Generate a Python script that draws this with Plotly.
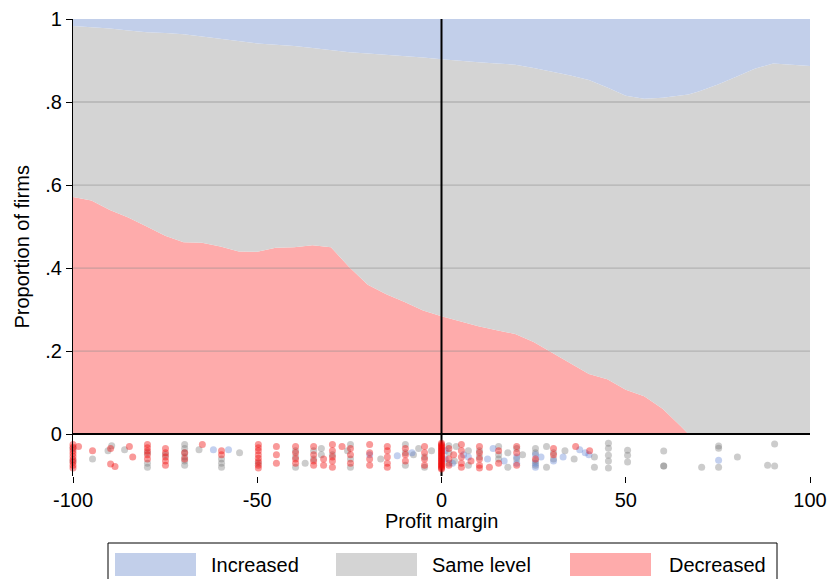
import plotly.graph_objects as go

# ---------------- data ----------------
margin_x = [-100, -95, -90, -85, -80, -75, -70, -65, -60, -55, -50, -45, -40, -35, -30,
            -25, -20, -15, -10, -5, 0, 5, 10, 15, 20, 25, 30, 35, 40, 45, 50, 55, 60,
            65, 67, 70, 75, 80, 85, 90, 95, 100]
decreased_share = [0.571, 0.563, 0.540, 0.522, 0.500, 0.478, 0.462, 0.461, 0.452, 0.440,
                   0.439, 0.449, 0.450, 0.455, 0.450, 0.402, 0.360, 0.337, 0.318, 0.298,
                   0.284, 0.272, 0.260, 0.250, 0.241, 0.222, 0.196, 0.171, 0.145, 0.132,
                   0.107, 0.091, 0.061, 0.018, 0.0, 0.0, 0.0, 0.0, 0.0, 0.0, 0.0, 0.0]
not_increased_share = [0.983, 0.980, 0.977, 0.972, 0.968, 0.966, 0.963, 0.958, 0.952, 0.946,
                       0.941, 0.938, 0.935, 0.930, 0.925, 0.920, 0.917, 0.914, 0.911, 0.907,
                       0.903, 0.899, 0.896, 0.893, 0.890, 0.882, 0.873, 0.864, 0.853, 0.835,
                       0.815, 0.808, 0.810, 0.815, 0.818, 0.826, 0.842, 0.861, 0.880, 0.893,
                       0.890, 0.887]
same_share = [round(t - d, 4) for t, d in zip(not_increased_share, decreased_share)]
increased_share = [round(1 - t, 4) for t in not_increased_share]

# rug of individual firms (profit margin, vertical jitter position)
rug_dec_x = [-100, -100, -100, -100, -100, -100, -100, -100, -100,
             -98.5, -94.7, -89.8, -89.8, -88.6, -84.7, -83.8,
             -79.8, -79.8, -79.8, -79.8, -79.8,
             -74.9, -74.9, -74.9, -74.9, -74.9,
             -69.7, -69.7, -64.9, -59.7, -59.7,
             -49.7, -49.7, -49.7, -49.7, -49.7, -49.7, -49.7, -49.7,
             -44.8, -44.8, -44.8, -39.6, -39.6, -39.6, -39.6,
             -34.7, -34.7, -34.7, -34.7, -32.0, -32.0,
             -29.6, -29.6, -29.6, -29.6, -29.6, -27.0,
             -24.7, -24.7, -24.7, -19.5, -19.5, -19.5, -19.5,
             -14.7, -14.7, -14.7, -14.7, -14.7, -9.8, -9.8, -9.8,
             -4.6, -4.6, -4.6, -4.6,
             0, 0, 0, 0, 0, 0, 0, 0, 0, 0, 0,
             0, 0, 0, 0, 0, 0, 0, 0, 0, 0, 0,
             2, 2, 2, 3.3,
             5.4, 5.4, 5.4, 5.4, 5.4, 8,
             10.3, 10.3, 10.3, 10.3, 10.3, 13,
             15.5, 15.5, 20.4, 20.4, 20.4, 25.5,
             30.4, 30.4, 36.4, 40.2]
rug_dec_y = [-0.025, -0.032, -0.040, -0.047, -0.054, -0.061, -0.068, -0.075, -0.082,
             -0.030, -0.040, -0.035, -0.072, -0.078, -0.030, -0.055,
             -0.025, -0.033, -0.041, -0.050, -0.060,
             -0.035, -0.045, -0.055, -0.065, -0.075,
             -0.045, -0.060, -0.025, -0.040, -0.050,
             -0.025, -0.033, -0.040, -0.050, -0.058, -0.066, -0.075, -0.082,
             -0.030, -0.050, -0.070, -0.030, -0.045, -0.060, -0.070,
             -0.030, -0.050, -0.065, -0.075, -0.060, -0.075,
             -0.025, -0.040, -0.055, -0.065, -0.080, -0.030,
             -0.035, -0.050, -0.070, -0.025, -0.045, -0.060, -0.075,
             -0.030, -0.040, -0.055, -0.070, -0.080, -0.035, -0.050, -0.065,
             -0.030, -0.045, -0.060, -0.075,
             -0.022, -0.028, -0.034, -0.040, -0.046, -0.052, -0.058, -0.064, -0.070, -0.076, -0.082,
             -0.025, -0.031, -0.037, -0.043, -0.049, -0.055, -0.061, -0.067, -0.073, -0.079, -0.084,
             -0.035, -0.060, -0.075, -0.050,
             -0.025, -0.040, -0.055, -0.070, -0.080, -0.065,
             -0.030, -0.045, -0.060, -0.075, -0.082, -0.080,
             -0.040, -0.070, -0.030, -0.045, -0.075, -0.060,
             -0.035, -0.050, -0.030, -0.040]

rug_same_x = [-100, -100, -94.7, -90.5, -89.5, -86.0,
              -79.8, -79.8, -79.8, -74.9,
              -69.7, -69.7, -69.7, -69.7, -69.7, -69.7,
              -65.8, -59.7, -59.7, -59.7, -54.8, -49.7,
              -39.6, -39.6, -39.6, -37.0, -34.7, -34.7,
              -32.6, -32.6, -29.6, -25.5, -24.7, -24.7, -24.7,
              -16.5, -9.8, -9.8, -9.8, -7.6, -6.2, -4.6, -4.6, -2.7,
              2, 2, 2, 3.5, 4, 7.3, 7.3,
              10.3, 10.3, 15.5, 15.5, 15.5, 18, 18, 20.4, 20.4, 22,
              25.5, 25.5, 25.5, 25.5, 28.5, 28.5, 30.4, 30.4, 33.5, 36,
              41.5, 41.5, 45.3, 45.3, 45.3, 45.3, 45.3, 50.5, 50.5, 50.5,
              60.3, 60.3, 60.3, 70.6, 75.2, 75.2, 75.2, 80.3, 88.5, 90.4, 90.4,
              100.7, 100.7]
rug_same_y = [-0.035, -0.065, -0.060, -0.040, -0.028, -0.038,
              -0.045, -0.070, -0.080, -0.050,
              -0.025, -0.035, -0.045, -0.055, -0.065, -0.075,
              -0.038, -0.060, -0.070, -0.080, -0.045, -0.070,
              -0.040, -0.055, -0.080, -0.070, -0.040, -0.060,
              -0.035, -0.050, -0.050, -0.040, -0.025, -0.060, -0.080,
              -0.060, -0.025, -0.045, -0.075, -0.050, -0.035, -0.055, -0.080, -0.040,
              -0.028, -0.045, -0.070, -0.065, -0.030, -0.040, -0.075,
              -0.040, -0.055, -0.030, -0.050, -0.060, -0.045, -0.080, -0.035, -0.060, -0.050,
              -0.035, -0.045, -0.065, -0.075, -0.030, -0.080, -0.045, -0.060, -0.040, -0.060,
              -0.055, -0.080, -0.022, -0.034, -0.051, -0.065, -0.082, -0.039, -0.051, -0.067,
              -0.041, -0.077, -0.077, -0.080, -0.029, -0.034, -0.080, -0.055, -0.075, -0.024, -0.077,
              -0.058, -0.075]

rug_inc_x = [-61.9, -57.8, -19.5, -12.0, -8.0, 1, 1, 3, 6, 7.3, 12.5, 14, 17, 20.4, 20.4,
             25.5, 25.5, 25.5, 27, 30.4, 33, 37.5, 39, 40, 75.2]
rug_inc_y = [-0.038, -0.038, -0.050, -0.052, -0.045, -0.040, -0.060, -0.070, -0.050, -0.055,
             -0.060, -0.035, -0.065, -0.055, -0.070, -0.050, -0.070, -0.080, -0.055, -0.065,
             -0.055, -0.038, -0.045, -0.050, -0.063]

x_tick_vals = [-100, -50, 0, 50, 100]
x_tick_text = ["-100", "-50", "0", "50", "100"]
y_tick_vals = [0, 0.2, 0.4, 0.6, 0.8, 1]
y_tick_text = ["0", ".2", ".4", ".6", ".8", "1"]
legend_labels = ["Increased", "Same level", "Decreased"]

# ---------------- style ----------------
C_INC = "#c2cfea"
C_SAME = "#d4d4d4"
C_DEC = "#feabab"
FONT = "Liberation Sans, Arial, sans-serif"
W, H = 831, 579
L, R, T, B = 73, 810, 19, 476
Y_MIN = -0.101


def px_x(p):
    return (p - L) / (R - L)


def px_y(p):
    return (B - p) / (B - T)


fig = go.Figure()
for name, vals, col in [("Decreased", decreased_share, C_DEC),
                        ("Same level", same_share, C_SAME),
                        ("Increased", increased_share, C_INC)]:
    fig.add_trace(go.Scatter(x=margin_x, y=vals, name=name, stackgroup="one",
                             mode="lines", line=dict(width=0, color=col),
                             fillcolor=col, showlegend=False, hoverinfo="skip"))

for xs, ys, col in [(rug_same_x, rug_same_y, "rgba(115,115,115,0.36)"),
                    (rug_inc_x, rug_inc_y, "rgba(90,125,210,0.36)"),
                    (rug_dec_x, rug_dec_y, "rgba(240,0,0,0.40)")]:
    fig.add_trace(go.Scatter(x=xs, y=ys, mode="markers", cliponaxis=False,
                             marker=dict(size=7, color=col, line=dict(width=0)),
                             showlegend=False, hoverinfo="skip"))

shapes = []
# grid lines drawn above the areas
for gy in [0.2, 0.4, 0.6, 0.8]:
    shapes.append(dict(type="line", xref="x", yref="y", x0=-100, x1=100, y0=gy, y1=gy,
                       line=dict(color="rgba(140,140,140,0.45)", width=1.3), layer="above"))
# reference lines
shapes.append(dict(type="line", xref="x", yref="y", x0=0, x1=0, y0=0, y1=1,
                   line=dict(color="black", width=2), layer="above"))
shapes.append(dict(type="line", xref="x", yref="y", x0=0, x1=0, y0=Y_MIN, y1=0,
                   line=dict(color="black", width=2), layer="below"))
shapes.append(dict(type="line", xref="x", yref="y", x0=-100, x1=100, y0=0, y1=0,
                   line=dict(color="black", width=2), layer="above"))

# custom legend
shapes.append(dict(type="rect", xref="paper", yref="paper",
                   x0=px_x(108), x1=px_x(777), y0=px_y(590), y1=px_y(543),
                   line=dict(color="black", width=1), fillcolor="white", layer="above"))
annotations = []
sw_left = [115, 336, 570]
tx_left = [209, 430, 667]
for lab, col, sx, tx in zip(legend_labels, [C_INC, C_SAME, C_DEC], sw_left, tx_left):
    shapes.append(dict(type="rect", xref="paper", yref="paper",
                       x0=px_x(sx), x1=px_x(sx + 81), y0=px_y(576), y1=px_y(553),
                       line=dict(width=0), fillcolor=col, layer="above"))
    annotations.append(dict(text=lab, xref="paper", yref="paper", x=px_x(tx), y=px_y(565),
                            xanchor="left", yanchor="middle", showarrow=False,
                            font=dict(family=FONT, size=20, color="black")))

annotations.append(dict(text="Profit margin", xref="paper", yref="paper",
                        x=px_x(441), y=px_y(521), xanchor="center", yanchor="middle",
                        showarrow=False, font=dict(family=FONT, size=20, color="black")))
annotations.append(dict(text="Proportion of firms", xref="paper", yref="paper",
                        x=px_x(21), y=0.5, xanchor="center", yanchor="middle", textangle=-90,
                        showarrow=False, font=dict(family=FONT, size=20, color="black")))

fig.update_layout(
    width=W, height=H,
    margin=dict(l=L, r=W - R, t=T, b=H - B, pad=0),
    paper_bgcolor="white", plot_bgcolor="white",
    font=dict(family=FONT, size=20, color="black"),
    shapes=shapes, annotations=annotations, showlegend=False,
    xaxis=dict(range=[-100, 100], tickvals=x_tick_vals, ticktext=x_tick_text,
               ticks="outside", ticklen=6, tickwidth=1.2, tickcolor="black",
               showgrid=False, zeroline=False, showline=False, automargin=False,
               tickfont=dict(family=FONT, size=20, color="black")),
    yaxis=dict(range=[Y_MIN, 1.0], tickvals=y_tick_vals, ticktext=y_tick_text,
               ticks="outside", ticklen=6, tickwidth=1.2, tickcolor="black",
               showgrid=False, zeroline=False, showline=True, linecolor="black",
               linewidth=1.2, automargin=False,
               tickfont=dict(family=FONT, size=20, color="black")),
)

fig.write_html("out.html", config={"displayModeBar": False},
               post_script="document.body.style.margin='0';document.body.style.padding='0';")
